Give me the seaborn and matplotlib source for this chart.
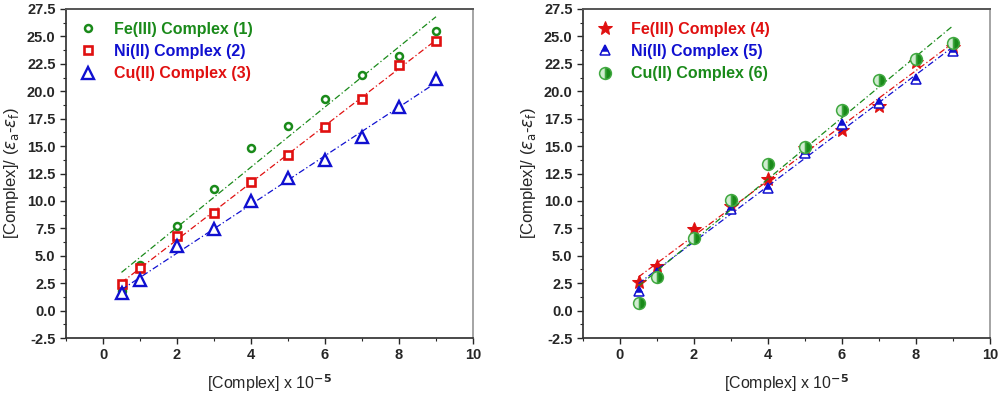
import numpy as np
import pandas as pd
import matplotlib
matplotlib.use("Agg")
import matplotlib.pyplot as plt
import seaborn as sns

# concentration values (x 10^-5)
conc = [0.5, 1, 2, 3, 4, 5, 6, 7, 8, 9]

# left panel
fe1 = [1.8, 4.2, 7.7, 11.1, 14.8, 16.8, 19.3, 21.5, 23.2, 25.5]
ni2 = [2.4, 3.9, 6.8, 8.9, 11.7, 14.2, 16.7, 19.3, 22.4, 24.6]
cu3 = [1.6, 2.8, 5.9, 7.4, 10.0, 12.1, 13.7, 15.8, 18.6, 21.1]

# right panel
fe4 = [2.6, 4.1, 7.4, 9.5, 12.0, 14.8, 16.5, 18.7, 22.7, 24.0]
ni5 = [1.8, 3.4, 6.7, 9.3, 11.2, 14.4, 17.0, 18.9, 21.1, 23.7]
cu6 = [0.7, 3.1, 6.6, 10.1, 13.4, 14.9, 18.3, 21.0, 22.9, 24.4]

left_labels = ["Fe(III) Complex (1)", "Ni(II) Complex (2)", "Cu(II) Complex (3)"]
right_labels = ["Fe(III) Complex (4)", "Ni(II) Complex (5)", "Cu(II) Complex (6)"]

sns.set_theme(style="ticks")
plt.rcParams['font.family'] = ['Liberation Sans', 'DejaVu Sans']

GREEN = "#1a8a1a"
RED = "#e01010"
BLUE = "#1010d0"

fig = plt.figure(figsize=(10, 4), dpi=100)
axL = fig.add_axes([0.066, 0.155, 0.407, 0.8225])
axR = fig.add_axes([0.583, 0.155, 0.407, 0.8225])


def series(ax, y, color, label, mk):
    sns.regplot(x=conc, y=y, ax=ax, scatter=False, ci=None, truncate=True,
                line_kws=dict(color=color, lw=0.9, ls=(0, (5, 2, 1, 2))))
    sns.lineplot(x=conc, y=y, ax=ax, linestyle="none", label=label, **mk)


series(axL, fe1, GREEN, left_labels[0],
       dict(marker="o", markersize=5, markerfacecolor="white", markeredgecolor=GREEN, markeredgewidth=1.8))
series(axL, ni2, RED, left_labels[1],
       dict(marker="s", markersize=5.5, markerfacecolor="white", markeredgecolor=RED, markeredgewidth=1.9))
series(axL, cu3, BLUE, left_labels[2],
       dict(marker="^", markersize=8, markerfacecolor="white", markeredgecolor=BLUE, markeredgewidth=1.7))

series(axR, fe4, RED, right_labels[0],
       dict(marker="*", markersize=10, markerfacecolor=RED, markeredgecolor=RED))
series(axR, ni5, BLUE, right_labels[1],
       dict(marker="^", markersize=7, fillstyle="top", markerfacecolor=BLUE,
            markerfacecoloralt="white", markeredgecolor=BLUE, markeredgewidth=1.1))
series(axR, cu6, GREEN, right_labels[2],
       dict(marker="o", markersize=8.5, fillstyle="right", markerfacecolor=GREEN,
            markerfacecoloralt="#d0ecd0", markeredgecolor="#40a840", markeredgewidth=1.1))

for ax, cols in [(axL, [GREEN, BLUE, RED]), (axR, [RED, BLUE, GREEN])]:
    ax.set_xlim(-1, 10)
    ax.set_ylim(-2.5, 27.5)
    ax.set_xticks([0, 2, 4, 6, 8, 10])
    ax.set_xticks([-1, 1, 3, 5, 7, 9], minor=True)
    ax.set_yticks(np.arange(-2.5, 27.6, 2.5))
    ax.set_yticks(np.arange(-1.25, 27.5, 2.5), minor=True)
    ax.set_yticklabels([f"{v:.1f}" for v in np.arange(-2.5, 27.6, 2.5)])
    ax.tick_params(which="major", length=4, width=1, labelsize=10.5)
    ax.tick_params(which="minor", length=2.5, width=0.8)
    for lab in ax.get_xticklabels() + ax.get_yticklabels():
        lab.set_fontweight("bold")
    ax.spines["left"].set_color("#333333")
    ax.spines["bottom"].set_color("#333333")
    ax.spines["top"].set_color("#555555")
    ax.spines["right"].set_color("#999999")
    ax.spines["top"].set_linewidth(1.4)
    ax.set_xlabel(r"[Complex] x 10$^{\mathbf{-5}}$", fontsize=11.5, labelpad=7)
    ax.set_ylabel(r"[Complex]/ ($\epsilon_\mathrm{a}$-$\epsilon_\mathrm{f}$)", fontsize=12)
    leg = ax.legend(loc="upper left", frameon=False, handlelength=1.2, handletextpad=1.0,
                    labelspacing=0.45, borderaxespad=0.4,
                    prop=dict(size=11.5, weight="bold"))
    for t, c in zip(leg.get_texts(), cols):
        t.set_color(c)

fig.savefig("out.png", dpi=100)
